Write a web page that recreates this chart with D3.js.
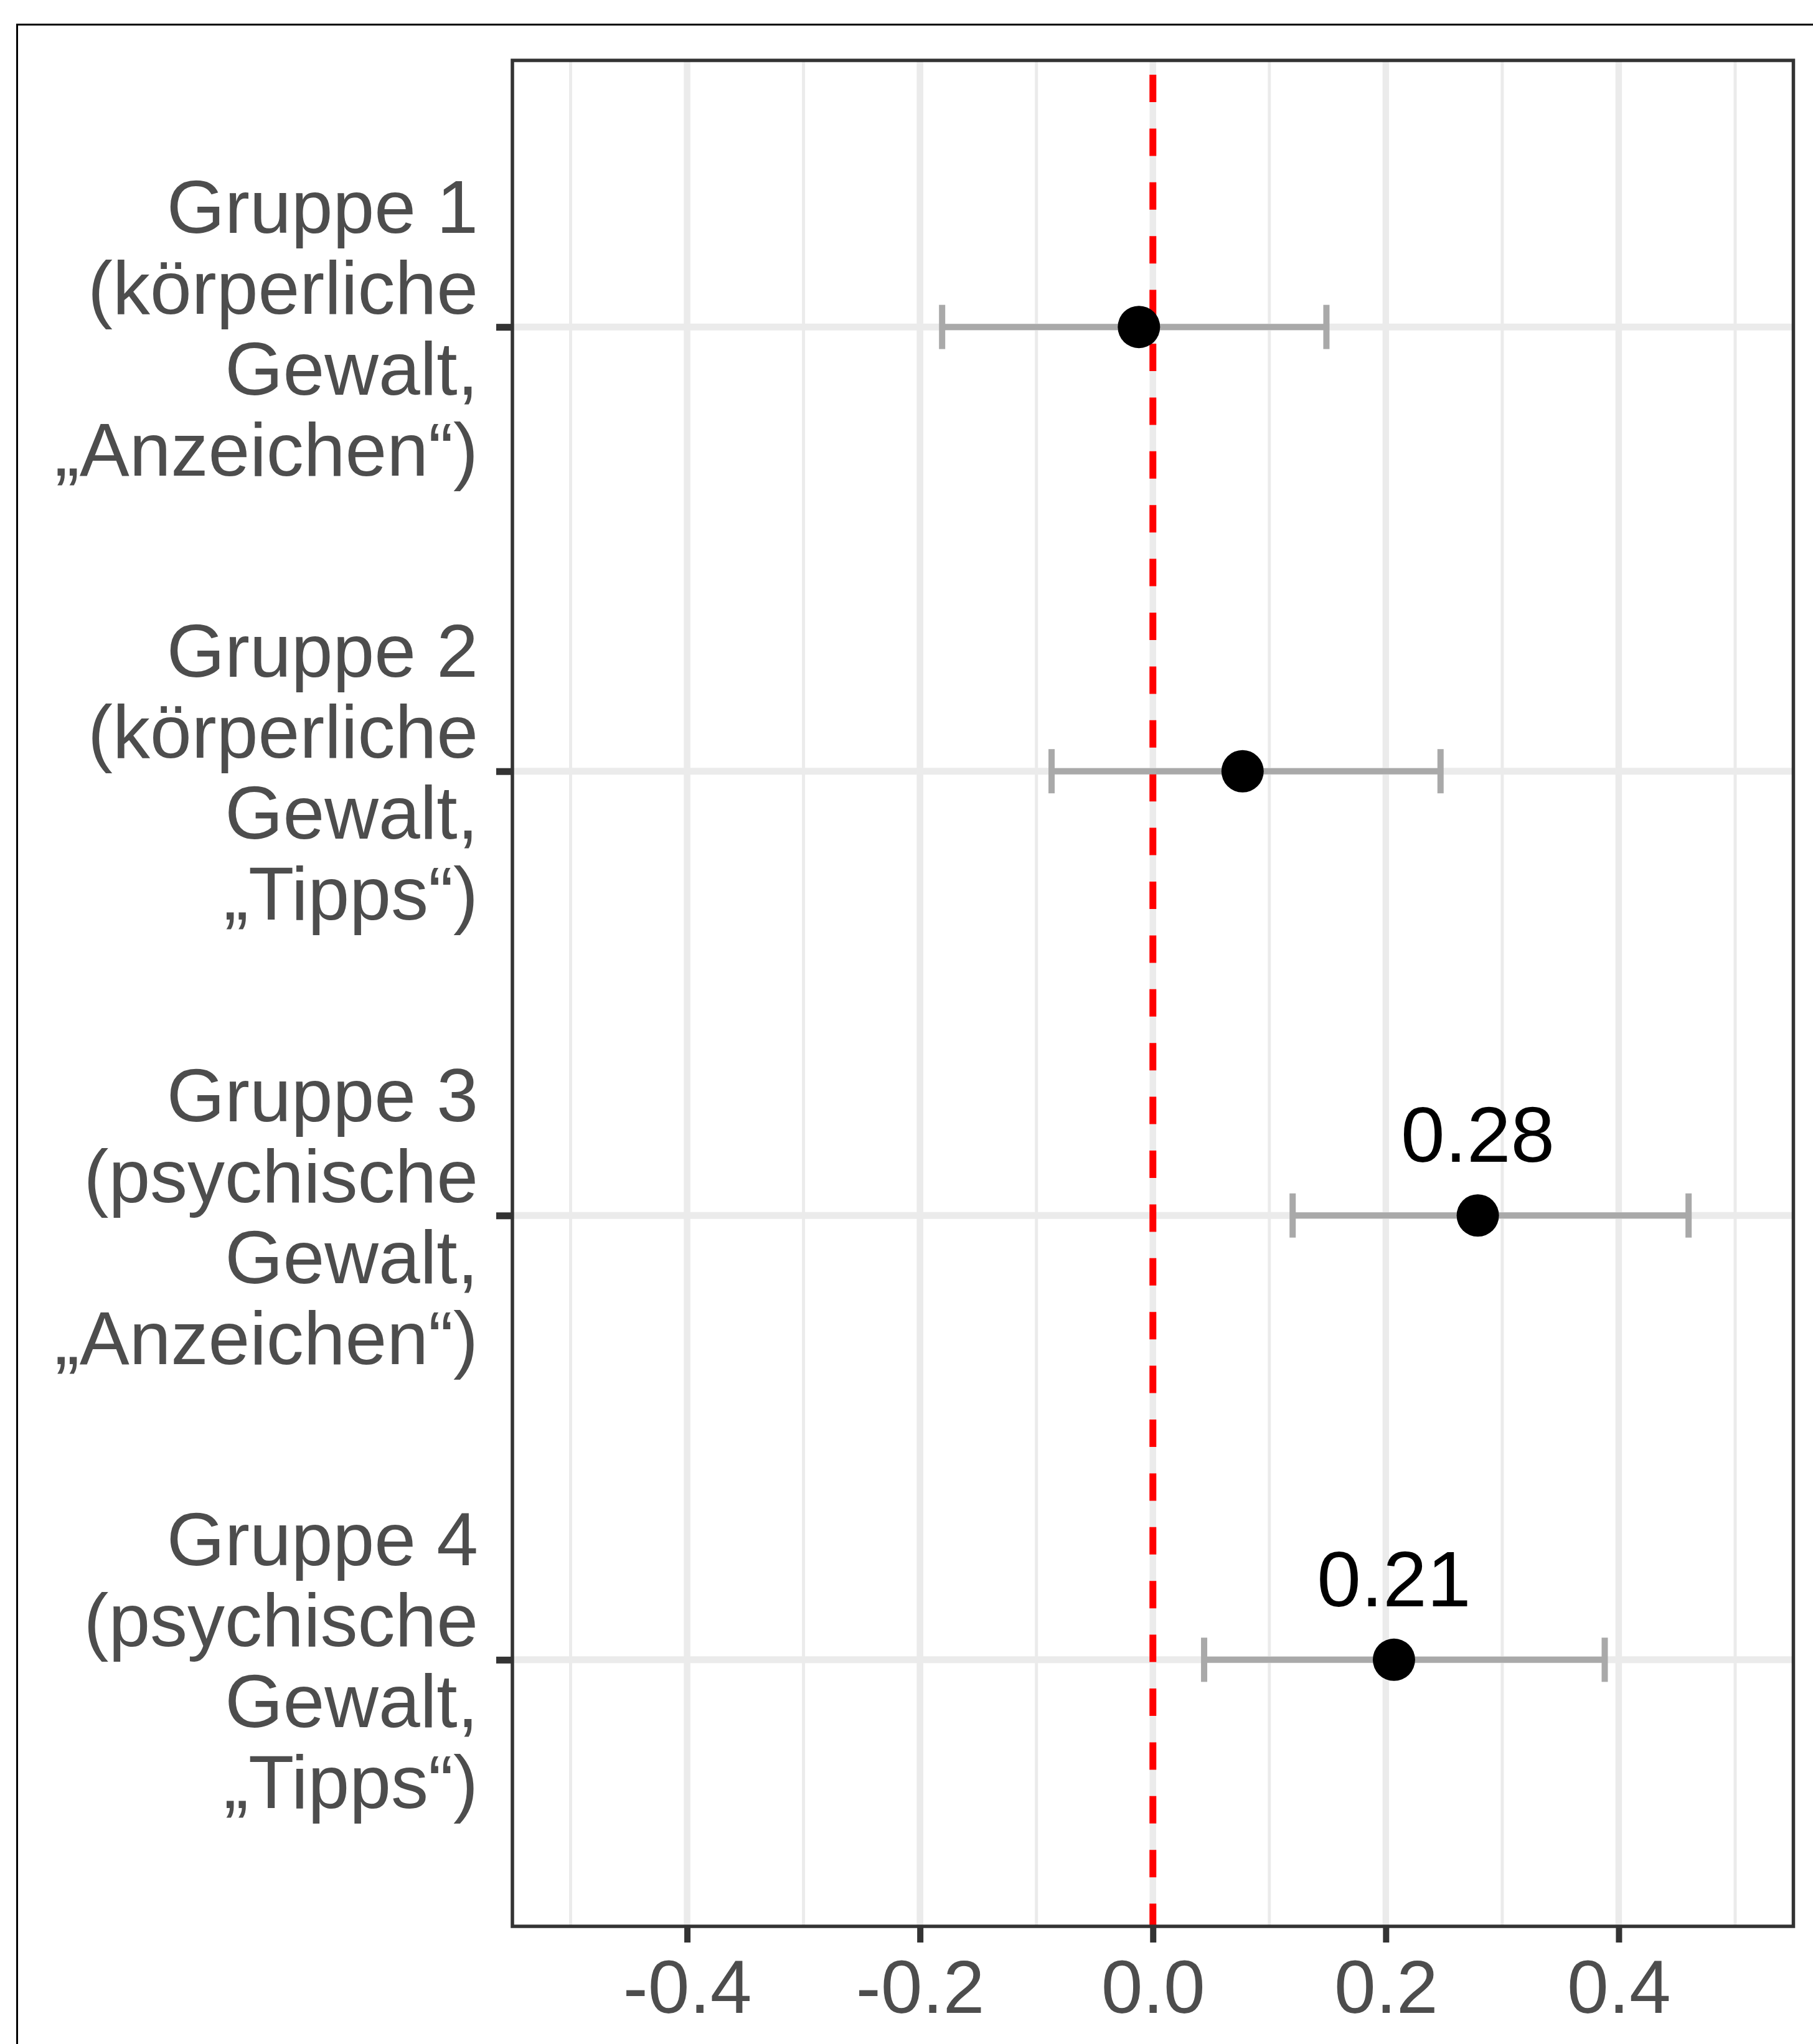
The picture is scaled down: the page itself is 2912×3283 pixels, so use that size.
<!DOCTYPE html>
<html>
<head>
<meta charset="utf-8">
<script src="https://cdn.jsdelivr.net/npm/d3@7"></script>
<style>
  body { margin: 0; background: #fff; }
  svg { display: block; }
</style>
</head>
<body>
<svg id="chart" width="2912" height="3283"></svg>
<script>
// data
var groups = ["Gruppe 1", "Gruppe 2", "Gruppe 3", "Gruppe 4"];
var groupLabels = [
  ["Gruppe 1", "(körperliche", "Gewalt,", "\u201EAnzeichen\u201C)"],
  ["Gruppe 2", "(körperliche", "Gewalt,", "\u201ETipps\u201C)"],
  ["Gruppe 3", "(psychische", "Gewalt,", "\u201EAnzeichen\u201C)"],
  ["Gruppe 4", "(psychische", "Gewalt,", "\u201ETipps\u201C)"]
];
var estimates = [-0.012, 0.077, 0.279, 0.207];
var lower = [-0.181, -0.087, 0.120, 0.044];
var upper = [0.149, 0.247, 0.460, 0.388];
var xTicks = [-0.4, -0.2, 0.0, 0.2, 0.4];
var xTickLabels = ["-0.4", "-0.2", "0.0", "0.2", "0.4"];
var xMinor = [-0.5, -0.3, -0.1, 0.1, 0.3, 0.5];

// panel box (note: "top" is reserved on window, so prefixed names)
var pLeft = 823, pRight = 2880.5, pTop = 97, pBottom = 3094;
var fontSize = 120;
var lineH = 130;
var grey30 = "#4D4D4D", grey20 = "#333333", grid = "#EBEBEB";
var font = "'Liberation Sans', Arial, sans-serif";

var svg = d3.select("#chart");

// outer frame (runs off the right and bottom edge)
svg.append("rect")
  .attr("x", 27.5).attr("y", 39.5)
  .attr("width", 4000).attr("height", 4000)
  .attr("fill", "none").attr("stroke", "#000").attr("stroke-width", 3);

var x = d3.scaleLinear().domain([-0.55, 0.55]).range([pLeft, pRight]);
var y = d3.scalePoint().domain(groups).range([pTop, pBottom]).padding(0.6);

var panel = svg.append("g");

//minor grid
panel.selectAll("line.minor").data(xMinor).enter().append("line")
  .attr("class", "minor")
  .attr("x1", function(d){ return x(d); }).attr("x2", function(d){ return x(d); })
  .attr("y1", pTop).attr("y2", pBottom)
  .attr("stroke", grid).attr("stroke-width", 5);

//major grid
panel.selectAll("line.majorx").data(xTicks).enter().append("line")
  .attr("class", "majorx")
  .attr("x1", function(d){ return x(d); }).attr("x2", function(d){ return x(d); })
  .attr("y1", pTop).attr("y2", pBottom)
  .attr("stroke", grid).attr("stroke-width", 10.5);

panel.selectAll("line.majory").data(groups).enter().append("line")
  .attr("class", "majory")
  .attr("x1", pLeft).attr("x2", pRight)
  .attr("y1", function(d){ return y(d); }).attr("y2", function(d){ return y(d); })
  .attr("stroke", grid).attr("stroke-width", 11);

// reference line at zero
panel.append("line")
  .attr("x1", x(0)).attr("x2", x(0))
  .attr("y1", pTop).attr("y2", pBottom)
  .attr("stroke", "#FF0000").attr("stroke-width", 11)
  .attr("stroke-dasharray", "44 42.4")
  .attr("stroke-dashoffset", 63.4);

var rows = groups.map(function(g, i){
  return {group: g, est: estimates[i], lo: lower[i], hi: upper[i]};
});

// error bars
var eb = panel.selectAll("g.eb").data(rows).enter().append("g").attr("class", "eb")
  .attr("stroke", "#A9A9A9").attr("stroke-width", 10);
eb.append("line")
  .attr("x1", function(d){ return x(d.lo); }).attr("x2", function(d){ return x(d.hi); })
  .attr("y1", function(d){ return y(d.group); }).attr("y2", function(d){ return y(d.group); });
eb.append("line")
  .attr("x1", function(d){ return x(d.lo); }).attr("x2", function(d){ return x(d.lo); })
  .attr("y1", function(d){ return y(d.group) - 35.5; }).attr("y2", function(d){ return y(d.group) + 35.5; });
eb.append("line")
  .attr("x1", function(d){ return x(d.hi); }).attr("x2", function(d){ return x(d.hi); })
  .attr("y1", function(d){ return y(d.group) - 35.5; }).attr("y2", function(d){ return y(d.group) + 35.5; });

// points
panel.selectAll("circle").data(rows).enter().append("circle")
  .attr("cx", function(d){ return x(d.est); })
  .attr("cy", function(d){ return y(d.group); })
  .attr("r", 34).attr("fill", "#000");

// labels only where the interval excludes zero
panel.selectAll("text.val").data(rows.filter(function(d){ return d.lo > 0 || d.hi < 0; }))
  .enter().append("text").attr("class", "val")
  .attr("x", function(d){ return x(d.est); })
  .attr("y", function(d){ return y(d.group) - 86; })
  .attr("text-anchor", "middle")
  .attr("font-family", font)
  .attr("font-size", 127).attr("fill", "#000")
  .text(function(d){ return d.est.toFixed(2); });

// panel border
svg.append("rect")
  .attr("x", pLeft).attr("y", pTop)
  .attr("width", pRight - pLeft).attr("height", pBottom - pTop)
  .attr("fill", "none").attr("stroke", grey20).attr("stroke-width", 5.5);

// x axis
var xAxis = d3.axisBottom(x).tickValues(xTicks)
  .tickFormat(function(d, i){ return xTickLabels[i]; })
  .tickSizeInner(26).tickSizeOuter(0).tickPadding(28);
var gx = svg.append("g").attr("transform", "translate(0," + pBottom + ")").call(xAxis);
gx.select(".domain").remove();
gx.selectAll(".tick line").attr("stroke", grey20).attr("stroke-width", 10);
gx.selectAll(".tick text")
  .attr("font-family", font)
  .attr("font-size", fontSize).attr("fill", grey30);

// y axis, labels split over several lines
var yAxis = d3.axisLeft(y).tickSizeInner(26).tickSizeOuter(0).tickPadding(29);
var gy = svg.append("g").attr("transform", "translate(" + pLeft + ",0)").call(yAxis);
gy.select(".domain").remove();
gy.selectAll(".tick line").attr("stroke", grey20).attr("stroke-width", 11);
gy.selectAll(".tick text")
  .attr("font-family", font)
  .attr("font-size", fontSize).attr("fill", grey30)
  .attr("dy", null)
  .each(function(d, i){
    var t = d3.select(this);
    var lines = groupLabels[i];
    var x0 = t.attr("x");
    t.text(null);
    var first = -((lines.length - 1) * lineH) / 2 + 0.716 * fontSize / 2;
    lines.forEach(function(s, k){
      t.append("tspan").attr("x", x0).attr("y", first + k * lineH).text(s);
    });
  });
</script>
</body>
</html>
